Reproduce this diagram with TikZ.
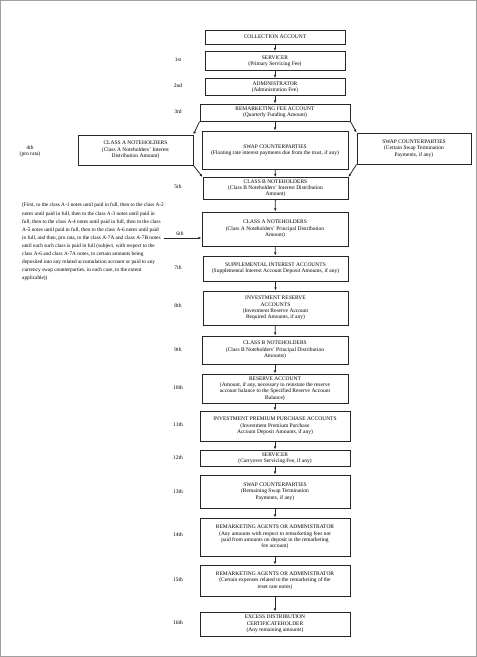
\documentclass[tikz,border=0pt]{standalone}
\usepackage{fontspec}
\setmainfont{Liberation Serif}
\usetikzlibrary{arrows.meta}
\begin{document}
\begin{tikzpicture}[x=1pt,y=-1pt,
  box/.style={draw=black!85, line width=0.9pt, align=center, inner sep=0.8pt, font=\fontsize{5.5}{6.3}\selectfont},
  lbl/.style={font=\fontsize{5.5}{6.5}\selectfont, inner sep=0pt, align=center},
  para/.style={font=\fontsize{5.3}{8.1}\selectfont, inner sep=0pt, align=left, anchor=north west},
  arr/.style={-{Latex[length=3.2pt,width=2.6pt]}, line width=0.8pt, black!85}]
\useasboundingbox (0,0) rectangle (477,657);
\draw[gray!75, line width=1.2pt] (0.6,0.6) rectangle (476.4,656.4);

% main column
\node[box, minimum width=140pt, minimum height=14pt] (coll) at (275,37) {COLLECTION ACCOUNT};
\node[box, minimum width=140pt, minimum height=19pt] (serv1) at (275,61) {SERVICER\\(Primary Servicing Fee)};
\node[box, minimum width=140pt, minimum height=17pt] (admin) at (275,87) {ADMINISTRATOR\\(Administration Fee)};
\node[box, minimum width=150pt, minimum height=17pt] (remfee) at (275,112.5) {REMARKETING FEE ACCOUNT\\(Quarterly Funding Amount)};
\node[box, minimum width=115pt, minimum height=30pt] (classAint) at (135.5,150) {CLASS A NOTEHOLDERS\\(Class A Noteholders' Interest\\Distribution Amount)};
\node[box, minimum width=146pt, minimum height=38pt] (swapC) at (275,150) {SWAP COUNTERPARTIES\\(Floating rate interest payments due from the trust, if any)};
\node[box, minimum width=114pt, minimum height=31pt] (swapR) at (414,148.5) {SWAP COUNTERPARTIES\\(Certain Swap Termination\\Payments, if any)};
\node[box, minimum width=145pt, minimum height=22pt, inner sep=0pt, font=\fontsize{5.5}{6.1}\selectfont] (classBint) at (275.5,188.5) {CLASS B NOTEHOLDERS\\(Class B Noteholders' Interest Distribution\\Amount)};
\node[box, minimum width=146pt, minimum height=34pt] (classAprin) at (275,229) {CLASS A NOTEHOLDERS\\(Class A Noteholders' Principal Distribution\\Amount)};
\node[box, minimum width=145pt, minimum height=25pt] (supp) at (275.5,268.5) {SUPPLEMENTAL INTEREST ACCOUNTS\\(Supplemental Interest Account Deposit Amounts, if any)};
\node[box, minimum width=145pt, minimum height=34pt] (invres) at (275.5,308) {INVESTMENT RESERVE\\ACCOUNTS\\(Investment Reserve Account\\Required Amounts, if any)};
\node[box, minimum width=146pt, minimum height=28pt] (classBprin) at (275,350) {CLASS B NOTEHOLDERS\\(Class B Noteholders' Principal Distribution\\Amounts)};
\node[box, minimum width=146pt, minimum height=29pt] (reserve) at (275,388.5) {RESERVE ACCOUNT\\(Amount, if any, necessary to reinstate the reserve\\account balance to the Specified Reserve Account\\Balance)};
\node[box, minimum width=150pt, minimum height=30pt] (invprem) at (275,426) {INVESTMENT PREMIUM PURCHASE ACCOUNTS\\(Investment Premium Purchase\\Account Deposit Amounts, if any)};
\node[box, minimum width=150pt, minimum height=16pt] (serv2) at (275,458) {SERVICER\\(Carryover Servicing Fee, if any)};
\node[box, minimum width=150pt, minimum height=33pt] (swap2) at (275,491.5) {SWAP COUNTERPARTIES\\(Remaining Swap Termination\\Payments, if any)};
\node[box, minimum width=150pt, minimum height=38pt] (rem1) at (275,537) {REMARKETING AGENTS OR ADMINISTRATOR\\(Any amounts with respect to remarketing fees not\\paid from amounts on  deposit in the remarketing\\fee account)};
\node[box, minimum width=150pt, minimum height=31pt] (rem2) at (275,580.5) {REMARKETING AGENTS OR ADMINISTRATOR\\(Certain expenses related to the remarketing of the\\reset rate notes)};
\node[box, minimum width=150pt, minimum height=24pt] (excess) at (275,624) {EXCESS DISTRIBUTION\\CERTIFICATEHOLDER\\(Any remaining amounts)};

% step labels
\node[lbl] (l1) at (178,60) {1st};
\node[lbl] (l2) at (178,86) {2nd};
\node[lbl] (l3) at (178,112) {3rd};
\node[lbl] (l4) at (30,151) {4th\\(pro rata)};
\node[lbl] (l5) at (178,187) {5th};
\node[lbl] (l6) at (180,234) {6th};
\node[lbl] (l7) at (178,268) {7th};
\node[lbl] (l8) at (178,306) {8th};
\node[lbl] (l9) at (178,350) {9th};
\node[lbl] (l10) at (178,388) {10th};
\node[lbl] (l11) at (178,425) {11th};
\node[lbl] (l12) at (178,458) {12th};
\node[lbl] (l13) at (178,492) {13th};
\node[lbl] (l14) at (178,535) {14th};
\node[lbl] (l15) at (178,580) {15th};
\node[lbl] (l16) at (178,623) {16th};

% paragraph
\node[para] (ptext) at (22,203) {(First, to the class A-1 notes until paid in full, then to the class A-2\\
notes until paid in full, then to the class A-3 notes until paid in\\
full, then to the class A-4 notes until paid in full, then to the class\\
A-5 notes until paid in full, then to the class A-6 notes until paid\\
in full, and then, pro rata, to the class A-7A and class A-7B notes\\
until each such class is paid in full (subject, with respect to the\\
class A-6 and class A-7A notes, to certain amounts being\\
deposited into any related accumulation account or paid to any\\
currency swap counterparties, in each case, to the extent\\
applicable))};

% connectors
\draw[arr] (coll) -- (serv1);
\draw[arr] (serv1) -- (admin);
\draw[arr] (admin) -- (remfee);
\draw[arr] (remfee) -- (swapC);
\draw[arr] (remfee.south west) -- (classAint.north east);
\draw[arr] (remfee.south east) -- (swapR.north west);
\draw[arr] (swapC) -- (classBint);
\draw[arr] (classAint.south east) -- (classBint.north west);
\draw[arr] (swapR.south west) -- (classBint.north east);
\draw[arr] (classBint) -- (classAprin);
\coordinate (p6) at (164,238);
\draw[arr] (p6) -- (p6 -| classAprin.west);
\draw[arr] (classAprin) -- (supp);
\draw[arr] (supp) -- (invres);
\draw[arr] (invres) -- (classBprin);
\draw[arr] (classBprin) -- (reserve);
\draw[arr] (reserve) -- (invprem);
\draw[arr] (invprem) -- (serv2);
\draw[arr] (serv2) -- (swap2);
\draw[arr] (swap2) -- (rem1);
\draw[arr] (rem1) -- (rem2);
\draw[arr] (rem2) -- (excess);
\end{tikzpicture}
\end{document}
